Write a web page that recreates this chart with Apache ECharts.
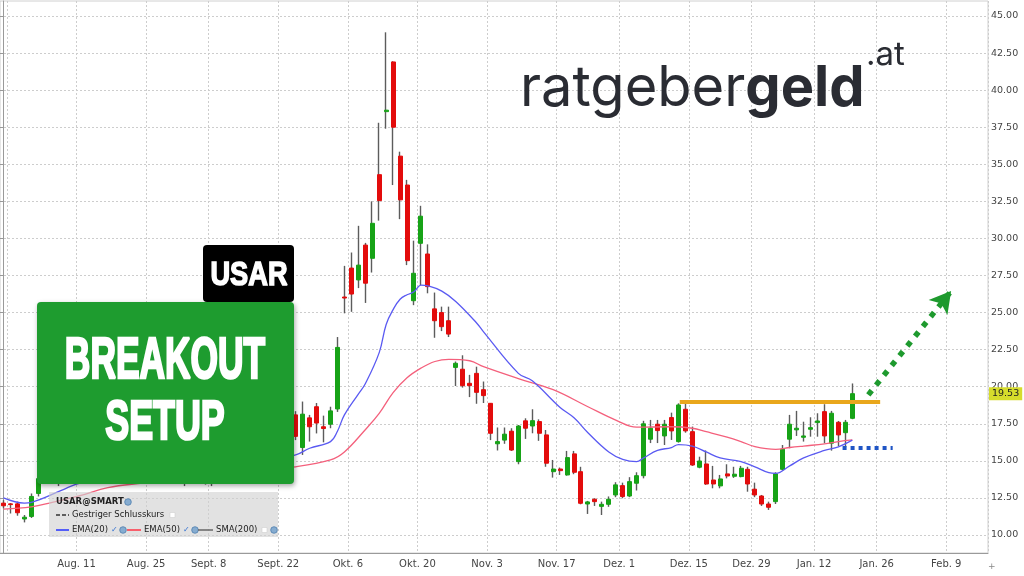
<!DOCTYPE html>
<html>
<head>
<meta charset="utf-8">
<script src="https://cdn.jsdelivr.net/npm/echarts@6/dist/echarts.min.js"></script>
<style>
html,body{margin:0;padding:0;background:#fff;}
#chart{width:1024px;height:576px;}
</style>
</head>
<body>
<div id="chart"></div>
<script>
// USAR Tageskerzen, ab 25.07.2025 (ein Wert je Handelstag)
var openData = [12.15,12.1,12.1,11.08,11.25,12.8,
  13.8,14.3,13.9,14.2,14.8,14.5,15.1,14.7,14.9,15.4,15.0,14.6,14.9,14.4,14.7,15.2,14.8,14.3,14.5,14.1,14.4,13.9,14.3,14.7,14.2,14.6,15.0,14.8,15.3,15.1,15.6,15.4,16.0,15.7,16.3,17.2,
  18.1,15.9,17.9,18.65,17.3,17.47,18.5,26.05,28.0,27.2,29.55,28.66,34.3,38.55,41.9,35.55,33.6,25.8,29.67,28.95,25.25,25.0,24.45,21.3,21.18,20.23,20.9,19.8,18.88,16.15,16.4,17.0,14.95,17.7,17.35,17.65,16.75,14.27,14.45,14.05,15.47,14.27,12.09,12.41,11.93,12.07,12.7,13.33,12.63,13.49,14.0,16.46,17.47,16.68,17.92,16.3,18.48,16.97,14.57,14.79,13.71,13.31,14.12,13.96,13.94,14.43,13.09,12.63,12.09,12.25,14.43,16.46,17.09,16.59,17.13,17.58,18.32,16.19,17.6,16.9,17.87];
var closeData = [11.97,12.05,11.5,11.2,12.6,13.8,
  14.3,13.9,14.2,14.8,14.5,15.1,14.7,14.9,15.4,15.0,14.6,14.9,14.4,14.7,15.2,14.8,14.3,14.5,14.1,14.4,13.9,14.3,14.7,14.2,14.6,15.0,14.8,15.3,15.1,15.6,15.4,16.0,15.7,16.3,17.2,18.1,
  16.65,18.15,17.3,17.55,17.18,18.37,22.65,25.98,26.25,28.2,26.98,31.02,32.55,38.65,37.5,32.6,28.5,27.65,31.5,26.75,24.45,24.05,23.55,21.58,20.07,20.07,19.62,19.4,16.86,16.3,16.8,15.73,17.35,17.2,17.71,16.86,14.84,14.45,14.34,15.22,14.23,12.14,12.23,12.25,12.07,12.41,13.38,12.59,13.6,14.0,17.5,17.2,17.04,17.47,17.02,18.77,17.02,14.72,14.99,13.44,13.44,13.78,13.98,14.1,14.5,13.44,12.7,12.09,11.87,14.12,15.78,17.47,17.2,16.68,17.24,17.69,16.68,18.21,16.75,17.6,19.53];
var lowData = [11.8,11.45,11.3,10.85,11.15,12.6,
  13.6,13.6,13.3,14.0,14.3,14.3,14.5,14.4,14.7,14.8,14.4,14.3,14.2,14.1,14.5,14.6,14.1,13.9,13.8,13.7,13.3,13.7,14.0,13.4,13.3,14.4,14.5,14.6,14.9,14.9,15.1,15.2,15.4,15.5,16.0,16.9,
  16.4,15.4,16.3,16.85,16.25,17.2,18.3,24.95,25.05,26.65,25.65,27.7,31.2,37.4,33.6,31.3,28.2,25.5,26.85,26.3,23.3,23.75,23.35,20.05,19.94,19.3,18.85,18.9,16.4,15.7,16.15,15.67,14.77,16.48,16.86,16.35,14.6,13.87,14.05,14.0,14.1,12.07,11.42,11.96,11.35,11.9,12.55,12.48,12.55,13.0,13.82,16.2,16.2,16.07,16.41,16.23,16.9,14.66,14.5,13.38,13.15,13.15,13.82,13.85,13.89,12.92,12.55,11.96,11.69,12.09,14.34,15.85,16.68,16.3,16.63,16.63,16.19,15.69,16.0,15.92,17.81];
var highData = [12.35,12.15,12.25,11.35,12.8,14.0,
  14.6,14.5,14.4,15.0,15.2,15.4,15.3,15.2,15.7,15.6,15.2,15.1,15.0,14.9,15.5,15.4,15.0,14.8,14.7,14.6,14.5,14.5,14.9,14.9,14.8,15.3,15.3,15.6,15.5,15.9,15.8,16.3,16.4,16.6,17.6,18.4,
  18.35,19.0,18.1,18.9,18.05,18.65,23.35,28.15,29.05,30.85,29.7,32.5,37.8,43.9,41.95,35.85,33.95,29.85,32.2,29.6,26.35,25.4,25.4,21.7,22.12,20.8,21.35,20.35,18.9,17.25,17.25,17.2,17.42,17.87,18.48,17.8,17.08,15.06,14.55,15.67,15.67,14.6,12.3,12.48,12.25,12.6,13.56,13.53,13.9,14.23,17.7,17.76,17.76,17.76,18.25,18.88,18.93,17.31,15.28,15.7,14.66,14.05,14.77,14.6,14.66,14.6,13.53,12.7,12.25,14.23,16.07,18.1,18.37,17.64,17.94,18.21,18.82,18.37,17.69,17.76,20.22];

// gleitende Durchschnitte [Handelstag, Wert]
var ema20 = [[0,12.5],[3,12.15],[4,12.2],[9,13.15],[11,13.5],[16,13.9],[22,14.2],[28,14.5],[34,14.8],[38,15.1],[42,15.4],[44,15.85],[47,16.3],[48,17.0],[49,18.1],[51,19.5],[52,20.2],[54,22.3],[55,24.2],[56,25.2],[57,25.9],[58,26.2],[59,26.4],[60,26.85],[61,26.8],[63,26.45],[65,25.75],[68,24.3],[69,23.7],[74,20.9],[76,20.4],[80,18.6],[82,17.9],[84,16.9],[87,15.6],[89,15.1],[91,14.95],[92,15.2],[94,15.7],[96,15.9],[97,16.1],[99,16.0],[101,15.6],[103,15.2],[106,14.95],[108,14.6],[110,14.2],[111,14.15],[113,14.66],[115,15.2],[118,15.7],[120,15.95],[122,16.4]];
var ema50 = [[0,11.75],[4,11.9],[7,12.2],[11,12.65],[15,13.2],[20,13.5],[28,13.9],[35,14.3],[40,14.55],[42,14.6],[47,15.06],[49,15.6],[52,17.1],[54,18.2],[56,19.6],[58,20.6],[60,21.25],[62,21.7],[64,21.85],[67,21.75],[69,21.35],[74,20.55],[79,19.8],[84,18.65],[88,17.75],[91,17.27],[96,17.3],[99,17.2],[101,16.97],[104,16.6],[106,16.3],[108,15.96],[111,15.78],[113,15.9],[115,16.0],[118,16.14],[120,16.3],[122,16.41]];

var tickDates = ['2025-07-28','2025-08-11','2025-08-25','2025-09-08','2025-09-22','2025-10-06','2025-10-20','2025-11-03','2025-11-17','2025-12-01','2025-12-15','2025-12-29','2026-01-12','2026-01-26','2026-02-09'];
var tickLabels = ['','Aug. 11','Aug. 25','Sept. 8','Sept. 22','Okt. 6','Okt. 20','Nov. 3','Nov. 17','Dez. 1','Dez. 15','Dez. 29','Jan. 12','Jan. 26','Feb. 9'];
var holidays = ['2025-09-01','2025-11-27','2025-12-25','2026-01-01','2026-01-19','2026-02-16'];

var resistance = 18.97;   // Ausbruchslinie
var stopLevel = 15.9;     // blaue Linie
var lastPrice = 19.53;
var breakoutFrom = [124.3, 19.45], breakoutTo = [136.2, 26.45];

// Handelstage (ohne Wochenende/Feiertage)
var days = [];
var d = new Date(Date.UTC(2025, 6, 25));
while (days.length < 142) {
  var wd = d.getUTCDay();
  var s = d.toISOString().slice(0, 10);
  if (wd !== 0 && wd !== 6 && holidays.indexOf(s) < 0) days.push(s);
  d.setUTCDate(d.getUTCDate() + 1);
}

var wickData = openData.map(function (o, i) { return [o, closeData[i], lowData[i], highData[i]]; });
var bodyData = openData.map(function (o, i) {
  var c = closeData[i];
  return [o, c, Math.min(o, c), Math.max(o, c)];
});

function isTick(index, value) { return tickDates.indexOf(value) >= 0; }

// grid 0 = Kerzen (y 1..553), grid 1 = Preisskala (y 16..535)
var pxPerUnit = (576 - 41 - 16) / (45 - 10);
var yMin0 = 10 - (41 - 23) / pxPerUnit;
var yMax0 = 45 + (16 - 1) / pxPerUnit;

var font = 'DejaVu Sans';
var up = '#17a317', down = '#e30c0c', wick = '#5c5c5c';
var gridLine = {color: '#cdcdcd', type: [2, 2], width: 1};
var heavy = '"Liberation Sans", Arial, sans-serif';

var chart = echarts.init(document.getElementById('chart'), null, {renderer: 'canvas'});

function legendText(x, y, t, bold) {
  return {type: 'text', x: x, y: y, z: 101, style: {text: t, fill: '#222', font: (bold ? 'bold ' : '') + '8.5px "DejaVu Sans"', verticalAlign: 'middle'}};
}
function globe(x, y) {
  return {type: 'circle', z: 101, shape: {cx: x, cy: y, r: 3.3}, style: {fill: '#86acd0', stroke: '#4f7fae', lineWidth: 0.8}};
}
function legendLine(x1, x2, y, color, dash) {
  return {type: 'line', z: 101, shape: {x1: x1, y1: y, x2: x2, y2: y}, style: {stroke: color, lineWidth: 1.5, lineDash: dash || null}};
}
function checkbox(x, y) {
  return {type: 'rect', z: 101, shape: {x: x, y: y - 2.5, width: 5, height: 5}, style: {fill: '#fff', stroke: '#d0d0d0', lineWidth: 0.6}};
}
function check(x, y) {
  return {type: 'text', x: x, y: y, z: 101, style: {text: '✓', fill: '#2f6fd0', font: 'bold 8px "DejaVu Sans"', verticalAlign: 'middle'}};
}

chart.setOption({
  animation: false,
  backgroundColor: '#fff',
  grid: [
    {left: 0, right: 36, top: 1, bottom: 23, show: true, borderColor: '#d0d0d0', borderWidth: 1, outerBoundsMode: 'none'},
    {left: 0, right: 36, top: 16, bottom: 41, outerBoundsMode: 'none'}
  ],
  xAxis: [
    {
      type: 'category', gridIndex: 0, data: days, boundaryGap: true,
      axisLine: {lineStyle: {color: '#9a9a9a'}},
      axisTick: {show: false},
      axisLabel: {
        interval: isTick, color: '#444', fontSize: 10, fontFamily: font, margin: 6, padding: [0, 7, 0, 0],
        formatter: function (v) { var k = tickDates.indexOf(v); return k >= 0 ? tickLabels[k] : ''; }
      },
      splitLine: {show: true, interval: isTick, lineStyle: gridLine}
    },
    {type: 'value', gridIndex: 0, min: -0.5, max: days.length - 0.5, show: false},
    {type: 'value', gridIndex: 1, show: false}
  ],
  yAxis: [
    {
      type: 'value', gridIndex: 0, position: 'right', min: yMin0, max: yMax0,
      axisLine: {show: true, lineStyle: {color: '#9a9a9a'}},
      axisTick: {show: false}, axisLabel: {show: false}, splitLine: {show: false}
    },
    {
      type: 'value', gridIndex: 1, position: 'right', min: 10, max: 45, interval: 2.5,
      axisLine: {show: false},
      axisTick: {show: true, length: 3, lineStyle: {color: '#999'}},
      axisLabel: {color: '#444', fontSize: 9.5, fontFamily: font, margin: 3, formatter: function (v) { return v.toFixed(2); }},
      splitLine: {show: true, lineStyle: gridLine}
    }
  ],
  series: [
    {
      name: 'wick', type: 'candlestick', xAxisIndex: 0, yAxisIndex: 0, data: wickData,
      barWidth: 1, silent: true,
      itemStyle: {color: 'transparent', color0: 'transparent', borderColor: wick, borderColor0: wick, borderWidth: 1.4}
    },
    {
      name: 'USAR', type: 'candlestick', xAxisIndex: 0, yAxisIndex: 0, data: bodyData,
      barWidth: 4.5, silent: true,
      itemStyle: {color: up, color0: down, borderColor: up, borderColor0: down, borderWidth: 1}
    },
    {
      name: 'EMA(50)', type: 'line', xAxisIndex: 1, yAxisIndex: 0, data: ema50,
      smooth: 0.4, showSymbol: false, silent: true,
      lineStyle: {color: '#f4607c', width: 1.3}
    },
    {
      name: 'EMA(20)', type: 'line', xAxisIndex: 1, yAxisIndex: 0, data: ema20,
      smooth: 0.4, showSymbol: false, silent: true,
      lineStyle: {color: '#5a5af2', width: 1.3},
      markLine: {
        silent: true, animation: false, symbol: ['none', 'none'], label: {show: false},
        data: [
          [{coord: [97.2, resistance], lineStyle: {color: '#e9a71c', width: 4, type: 'solid'}}, {coord: [126, resistance]}],
          [{coord: [120.6, stopLevel], lineStyle: {color: '#1f55c5', width: 4, type: [4, 4]}}, {coord: [127.8, stopLevel]}],
          [{coord: breakoutFrom, symbol: 'none', lineStyle: {color: '#1e9a2e', width: 5.5, type: [5.5, 7]}},
           {coord: breakoutTo, symbol: 'arrow', symbolSize: [18, 21], itemStyle: {color: '#1e9a2e'}}]
        ]
      }
    },
    {
      name: 'last', type: 'line', xAxisIndex: 1, yAxisIndex: 0, data: [], silent: true,
      markLine: {
        silent: true, animation: false, symbol: ['none', 'none'],
        data: [
          {yAxis: lastPrice, lineStyle: {color: 'rgba(0,0,0,0)', width: 0},
           label: {show: true, position: 'end', distance: 1, formatter: '19.53', backgroundColor: '#d6dc2c',
                   color: '#222', fontSize: 9.5, fontFamily: font, padding: [2, 3, 1, 3]}}
        ]
      }
    }
  ],
  graphic: [
    // Logo
    {type: 'text', x: 520, y: 89, z: 100, style: {
      text: '{a|ratgeber}{b|geld}', verticalAlign: 'middle',
      rich: {
        a: {fontFamily: 'Inter', fontSize: 56, fontWeight: 'normal', fill: '#2a2c33'},
        b: {fontFamily: 'Inter', fontSize: 56, fontWeight: 'bold', fill: '#2a2c33'}
      }
    }},
    {type: 'text', x: 866, y: 55, z: 100, style: {text: '.at', fill: '#2a2c33', font: '33px Inter', verticalAlign: 'middle'}},
    // Ticker
    {type: 'rect', z: 100, shape: {x: 203, y: 245, width: 91, height: 57, r: 4}, style: {fill: '#000'}},
    {type: 'text', x: 249, y: 276, z: 101, scaleX: 0.8, style: {text: 'USAR', fill: '#fff', stroke: '#fff', lineWidth: 1.6, font: 'bold 34px ' + heavy, align: 'center', verticalAlign: 'middle'}},
    // Setup-Box
    {type: 'rect', z: 100, shape: {x: 37, y: 302, width: 257, height: 182, r: 4},
     style: {fill: '#1e9c2f', shadowBlur: 5, shadowColor: 'rgba(0,0,0,0.35)', shadowOffsetX: 1, shadowOffsetY: 2}},
    {type: 'text', x: 165, y: 362, z: 101, scaleX: 0.62, style: {text: 'BREAKOUT', fill: '#fff', stroke: '#fff', lineWidth: 2.6, font: 'bold 57px ' + heavy, align: 'center', verticalAlign: 'middle'}},
    {type: 'text', x: 165, y: 424, z: 101, scaleX: 0.64, style: {text: 'SETUP', fill: '#fff', stroke: '#fff', lineWidth: 2.6, font: 'bold 56px ' + heavy, align: 'center', verticalAlign: 'middle'}},
    // Legende
    {type: 'rect', z: 100, shape: {x: 49, y: 492, width: 229, height: 45}, style: {fill: 'rgba(208,208,208,0.62)'}},
    legendText(56, 502, 'USAR@SMART', true),
    globe(128, 502),
    legendLine(56, 69, 515, '#333', [4, 2]),
    legendText(72, 515, 'Gestriger Schlusskurs'),
    checkbox(170, 515),
    legendLine(56, 69, 530, '#2432ff'),
    legendText(72, 530, 'EMA(20)'),
    check(111, 530),
    globe(123, 530),
    legendLine(127, 141, 530, '#ff3345'),
    legendText(144, 530, 'EMA(50)'),
    check(183, 530),
    globe(195, 530),
    legendLine(198, 213, 530, '#666'),
    legendText(216, 530, 'SMA(200)'),
    checkbox(262, 530),
    globe(274, 530),
    {type: 'text', x: 988, y: 567, z: 100, style: {text: '+', fill: '#888', font: '9px "DejaVu Sans"', verticalAlign: 'middle'}}
  ]
});
</script>
</body>
</html>
